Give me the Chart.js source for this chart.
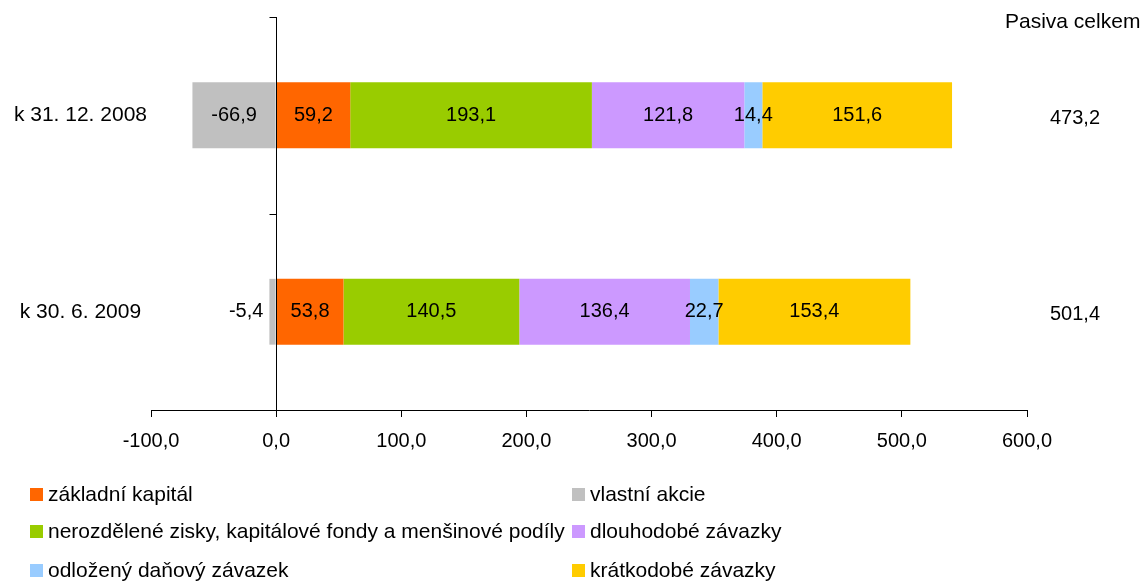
<!DOCTYPE html>
<html lang="cs">
<head>
  <meta charset="UTF-8" />
  <title>Pasiva celkem</title>
  <script src="https://cdn.jsdelivr.net/npm/chart.js"></script>
  <style>
    html, body { margin: 0; padding: 0; background: #fff; }
    #wrap { position: relative; width: 1141px; height: 581px; overflow: hidden; }
    #legend { position: absolute; left: 0; top: 0; font-family: "Liberation Sans", Arial, sans-serif; font-size: 21px; color: #000; }
    .item { position: absolute; white-space: nowrap; line-height: 24px; }
    .box { display: inline-block; width: 13px; height: 13px; margin-right: 5px; }
  </style>
</head>
<body>
  <div id="wrap">
    <canvas id="pasivaChart" width="1141" height="581"></canvas>
    <div id="legend"></div>
  </div>

  <script>
    const categories = ['k 31. 12. 2008', 'k 30. 6. 2009'];
    const seriesNames = [
      'základní kapitál',
      'vlastní akcie',
      'nerozdělené zisky, kapitálové fondy a menšinové podíly',
      'dlouhodobé závazky',
      'odložený daňový závazek',
      'krátkodobé závazky'
    ];
    const zakladniKapital = [59.2, 53.8];
    const vlastniAkcie = [-66.9, -5.4];
    const nerozdeleneZisky = [193.1, 140.5];
    const dlouhodobeZavazky = [121.8, 136.4];
    const odlozenyDanovyZavazek = [14.4, 22.7];
    const kratkodobeZavazky = [151.6, 153.4];
    const pasivaCelkem = [473.2, 501.4];
    const xTicks = [-100, 0, 100, 200, 300, 400, 500, 600];

    const seriesValues = [zakladniKapital, vlastniAkcie, nerozdeleneZisky, dlouhodobeZavazky, odlozenyDanovyZavazek, kratkodobeZavazky];
    const colors = ['#FF6600', '#C0C0C0', '#99CC00', '#CC99FF', '#99CCFF', '#FFCC00'];
    const FONT = '"Liberation Sans", Arial, sans-serif';

    const fmt = v => v.toFixed(1).replace('.', ',');

    // popisky hodnot uvnitř segmentů
    const valueLabels = {
      id: 'valueLabels',
      afterDatasetsDraw(chart) {
        const ctx = chart.ctx;
        ctx.save();
        ctx.font = '20px ' + FONT;
        ctx.fillStyle = '#000';
        ctx.textBaseline = 'middle';
        chart.data.datasets.forEach((ds, i) => {
          chart.getDatasetMeta(i).data.forEach((el, j) => {
            const p = el.getProps(['x', 'base', 'y'], true);
            const w = Math.abs(p.x - p.base);
            if (w < 12) {
              ctx.textAlign = 'right';
              ctx.fillText(fmt(ds.data[j]), Math.min(p.x, p.base) - 6, p.y);
            } else {
              ctx.textAlign = 'center';
              ctx.fillText(fmt(ds.data[j]), (p.x + p.base) / 2, p.y);
            }
          });
        });
        ctx.restore();
      }
    };

    // svislá osa v nule + sloupec Pasiva celkem
    const zeroAxis = {
      id: 'zeroAxis',
      afterDraw(chart) {
        const ctx = chart.ctx;
        const xs = chart.scales.x, ys = chart.scales.y;
        const area = chart.chartArea;
        const x0 = Math.round(xs.getPixelForValue(0)) + 0.5;
        ctx.save();
        ctx.strokeStyle = '#000';
        ctx.lineWidth = 1;
        ctx.beginPath();
        ctx.moveTo(x0, area.top);
        ctx.lineTo(x0, area.bottom);
        const half = (ys.getPixelForValue(1) - ys.getPixelForValue(0)) / 2;
        const bounds = [ys.getPixelForValue(0) - half];
        categories.forEach((c, i) => bounds.push(ys.getPixelForValue(i) + half));
        bounds.forEach(b => {
          const yy = Math.round(b) + 0.5;
          ctx.moveTo(x0 - 7, yy);
          ctx.lineTo(x0, yy);
        });
        ctx.stroke();

        ctx.font = '21px ' + FONT;
        ctx.fillStyle = '#000';
        ctx.textBaseline = 'middle';
        ctx.textAlign = 'left';
        ctx.fillText('Pasiva celkem', area.right - 22, area.top + 5);
        ctx.font = '20px ' + FONT;
        ctx.textAlign = 'center';
        pasivaCelkem.forEach((v, i) => {
          ctx.fillText(fmt(v), area.right + 48, ys.getPixelForValue(i) + 3);
        });
        ctx.restore();
      }
    };

    const datasets = seriesNames.map((name, i) => ({
      label: name,
      data: seriesValues[i],
      backgroundColor: colors[i],
      borderWidth: 0,
      categoryPercentage: 1,
      barPercentage: 0.335
    }));

    new Chart(document.getElementById('pasivaChart'), {
      type: 'bar',
      data: { labels: categories, datasets: datasets },
      plugins: [valueLabels, zeroAxis],
      options: {
        indexAxis: 'y',
        responsive: false,
        animation: false,
        layout: { padding: { top: 17, right: 114, bottom: 131, left: 0 } },
        plugins: { legend: { display: false }, tooltip: { enabled: false } },
        scales: {
          x: {
            stacked: true,
            min: -100,
            max: 600,
            afterBuildTicks: scale => { scale.ticks = xTicks.map(v => ({ value: v })); },
            afterFit: scale => { scale.height = 40; },
            grid: { drawOnChartArea: false, drawTicks: true, tickLength: 7, color: '#000' },
            border: { display: true, color: '#000', width: 1 },
            ticks: {
              padding: 12,
              color: '#000',
              font: { family: FONT, size: 20 },
              maxRotation: 0,
              callback: v => fmt(v)
            }
          },
          y: {
            stacked: true,
            afterFit: scale => { scale.width = 151; },
            grid: { display: false, drawTicks: false },
            border: { display: false },
            ticks: {
              crossAlign: 'center',
              padding: 4,
              color: '#000',
              font: { family: FONT, size: 21 }
            }
          }
        }
      }
    });

    // legenda ve dvou sloupcích
    const legend = document.getElementById('legend');
    const colLeft = [30, 572];
    const rowTop = [482, 519, 558];
    seriesNames.forEach((name, i) => {
      const item = document.createElement('div');
      item.className = 'item';
      item.style.left = colLeft[i % 2] + 'px';
      item.style.top = rowTop[Math.floor(i / 2)] + 'px';
      item.innerHTML = '<span class="box" style="background:' + colors[i] + '"></span>' + name;
      legend.appendChild(item);
    });
  </script>
</body>
</html>
